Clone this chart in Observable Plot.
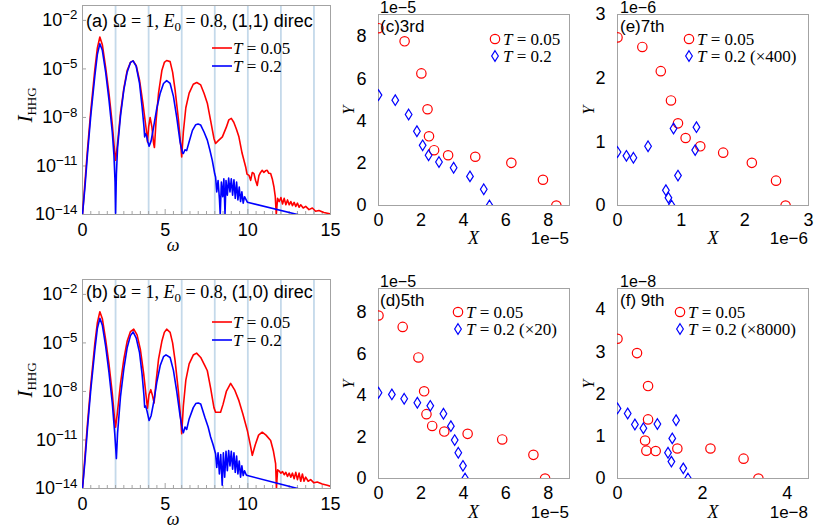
<!DOCTYPE html>
<html><head><meta charset="utf-8">
<script src="https://cdn.jsdelivr.net/npm/d3@7"></script>
<script src="https://cdn.jsdelivr.net/npm/@observablehq/plot@0.6"></script>
<style>
body{margin:0;background:#fff;}
#fig{position:relative;width:817px;height:531px;overflow:hidden;background:#fff;}
#fig > svg, #fig > div{position:absolute;}
#overlay{left:0;top:0;pointer-events:none;}
</style></head><body><div id="fig"></div>
<script>
// ---------------- DATA ----------------
// HHG spectra: [omega, log10(I_HHG)]
const aRed = [[0,-14],[0.15,-12],[0.3,-10],[0.5,-7.6],[0.75,-5.0],[0.9,-3.7],[1.05,-3.03],[1.2,-3.5],[1.4,-4.9],[1.6,-6.5],[1.8,-8.4],[1.95,-10.2],[2.0,-10.65],[2.1,-9.8],[2.3,-7.7],[2.5,-6.2],[2.7,-5.1],[2.9,-4.6],[3.06,-4.5],[3.25,-4.8],[3.45,-5.7],[3.65,-7.1],[3.85,-8.7],[3.93,-9.51],[4.0,-8.6],[4.09,-8.0],[4.2,-8.6],[4.3,-9.6],[4.35,-9.86],[4.45,-8.2],[4.6,-6.5],[4.8,-5.1],[4.95,-4.6],[5.09,-4.48],[5.3,-4.55],[5.45,-5.2],[5.6,-6.3],[5.8,-8.1],[5.95,-9.8],[6.0,-10.44],[6.1,-8.9],[6.25,-7.4],[6.45,-6.5],[6.7,-5.95],[6.91,-5.84],[7.15,-5.99],[7.35,-6.5],[7.55,-7.12],[7.75,-8.2],[7.95,-9.3],[8.05,-9.61],[8.2,-9.45],[8.46,-9.2],[8.7,-8.6],[8.85,-8.15],[9.0,-8.06],[9.15,-8.3],[9.3,-8.7],[9.46,-9.2],[9.65,-10.2],[9.87,-11.06],[9.95,-11.5],[10.07,-11.58],[10.17,-11.89],[10.27,-11.4],[10.37,-11.47],[10.47,-11.9],[10.57,-12.2],[10.67,-11.6],[10.77,-11.4],[10.87,-11.27],[10.97,-11.4],[11.07,-11.3],[11.17,-11.27],[11.27,-11.45],[11.38,-11.47],[11.48,-11.8],[11.58,-12.3],[11.66,-12.9],[11.72,-14],[11.8,-13.0],[11.9,-13.2],[12.0,-12.95],[12.1,-13.35],[12.2,-13.0],[12.3,-13.4],[12.4,-13.1],[12.5,-13.4],[12.6,-13.2],[12.7,-13.45],[12.8,-13.25],[12.9,-13.5],[13.0,-13.3],[13.1,-13.55],[13.2,-13.4],[13.35,-13.6],[13.5,-13.5],[13.7,-13.7],[13.9,-13.6],[14.1,-13.8],[14.3,-13.75],[14.6,-13.88],[15,-13.96]];
const aBlue = [[0,-14],[0.15,-12.3],[0.3,-10.3],[0.5,-7.9],[0.75,-5.4],[0.9,-4.1],[1.05,-3.44],[1.2,-3.85],[1.4,-5.2],[1.6,-6.9],[1.8,-8.9],[1.9,-10.3],[1.97,-12],[2.0,-13.92],[2.05,-11.5],[2.12,-9.9],[2.3,-7.9],[2.5,-6.3],[2.7,-5.2],[2.9,-4.6],[3.06,-4.5],[3.25,-4.85],[3.45,-5.9],[3.6,-7.3],[3.72,-8.6],[3.76,-9.2],[3.8,-9.0],[3.87,-9.1],[3.95,-9.5],[4.03,-9.78],[4.15,-9.45],[4.3,-8.6],[4.5,-7.4],[4.7,-6.5],[4.9,-5.9],[5.09,-5.72],[5.3,-5.9],[5.5,-6.7],[5.7,-8.0],[5.9,-9.5],[6.05,-10.2],[6.1,-10.23],[6.2,-10.0],[6.3,-10.05],[6.45,-9.5],[6.65,-8.8],[6.85,-8.45],[6.99,-8.41],[7.15,-8.47],[7.35,-8.9],[7.55,-9.4],[7.7,-10.0],[7.85,-10.65],[8.0,-11.5],[8.05,-11.68],[8.12,-12.6],[8.2,-11.9],[8.28,-13.0],[8.33,-14],[8.4,-12.0],[8.48,-12.9],[8.55,-11.8],[8.62,-14],[8.68,-11.9],[8.76,-12.8],[8.84,-11.75],[8.92,-12.6],[9.0,-11.8],[9.08,-12.8],[9.16,-11.85],[9.24,-13.0],[9.32,-12.0],[9.4,-13.1],[9.48,-12.3],[9.56,-13.2],[9.64,-12.6],[9.72,-13.3],[9.8,-12.9],[9.9,-13.1],[9.97,-13.24],[13.2,-14.05]];
const bRed = [[0,-14],[0.15,-12],[0.3,-10],[0.5,-7.6],[0.75,-5.0],[0.9,-3.75],[1.05,-3.07],[1.2,-3.5],[1.4,-4.8],[1.6,-6.3],[1.8,-8.1],[1.95,-9.8],[2.0,-10.21],[2.1,-9.4],[2.3,-7.5],[2.5,-6.0],[2.7,-4.9],[2.9,-4.3],[3.1,-4.15],[3.3,-4.5],[3.5,-5.4],[3.7,-6.9],[3.85,-8.3],[3.93,-9.04],[4.02,-8.2],[4.13,-7.89],[4.22,-8.2],[4.33,-8.71],[4.45,-7.4],[4.6,-6.0],[4.8,-4.9],[4.95,-4.35],[5.09,-4.15],[5.3,-4.35],[5.45,-5.0],[5.6,-6.1],[5.8,-8.0],[5.95,-9.8],[6.0,-10.62],[6.1,-8.9],[6.25,-7.3],[6.45,-6.3],[6.7,-5.75],[6.9,-5.63],[7.15,-5.9],[7.4,-6.41],[7.55,-6.72],[7.75,-7.8],[7.95,-9.0],[8.05,-9.29],[8.35,-9.29],[8.5,-8.8],[8.7,-8.0],[8.96,-7.5],[9.2,-7.9],[9.46,-8.57],[9.7,-9.4],[9.97,-10.41],[10.15,-11.3],[10.27,-11.95],[10.45,-11.3],[10.65,-10.7],[10.87,-10.52],[11.1,-10.7],[11.38,-11.03],[11.55,-11.7],[11.68,-12.46],[11.73,-14],[11.8,-12.85],[11.88,-12.9],[12.0,-13.05],[12.1,-12.95],[12.2,-13.15],[12.3,-13.0],[12.4,-13.25],[12.5,-13.05],[12.6,-13.3],[12.7,-13.05],[12.8,-13.4],[12.9,-13.0],[13.0,-13.45],[13.1,-13.05],[13.2,-13.55],[13.3,-13.1],[13.4,-13.55],[13.5,-13.3],[13.65,-13.55],[13.8,-13.45],[14.0,-13.65],[14.2,-13.6],[14.5,-13.72],[14.8,-13.8],[15,-13.86]];
const bBlue = [[0,-14],[0.15,-12.3],[0.3,-10.3],[0.5,-7.9],[0.75,-5.4],[0.9,-4.1],[1.05,-3.48],[1.2,-3.9],[1.4,-5.2],[1.6,-6.8],[1.8,-8.7],[1.95,-10.6],[2.05,-12.15],[2.12,-10.6],[2.3,-8.3],[2.5,-6.6],[2.7,-5.3],[2.9,-4.55],[3.06,-4.32],[3.25,-4.7],[3.45,-5.6],[3.6,-6.9],[3.72,-8.3],[3.76,-8.98],[3.82,-8.9],[3.9,-9.2],[4.03,-9.8],[4.15,-9.5],[4.3,-8.7],[4.5,-7.4],[4.7,-6.4],[4.9,-5.85],[5.05,-5.74],[5.3,-5.9],[5.5,-6.7],[5.7,-8.0],[5.9,-9.5],[6.05,-10.4],[6.1,-10.55],[6.2,-10.2],[6.3,-10.35],[6.45,-9.7],[6.7,-9.0],[6.85,-8.75],[7.0,-8.71],[7.15,-8.77],[7.4,-9.6],[7.6,-10.2],[7.75,-10.82],[7.9,-11.3],[8.05,-11.85],[8.12,-12.7],[8.2,-11.8],[8.28,-13.1],[8.36,-11.9],[8.45,-13.8],[8.52,-11.8],[8.6,-13.3],[8.68,-11.7],[8.76,-12.9],[8.84,-11.65],[8.92,-12.6],[9.0,-11.7],[9.08,-12.8],[9.16,-11.8],[9.24,-13.0],[9.32,-12.0],[9.4,-13.1],[9.48,-12.3],[9.56,-13.3],[9.64,-12.6],[9.72,-13.2],[9.8,-12.9],[9.9,-13.15],[9.97,-13.2],[13.2,-14.05]];

// Harmonic markers and ticks for spectra
const harmonicLines = [2,4,6,8,10,12,14];
const omegaTicks = [0,5,10,15];
const omegaMinorTicks = [0.5,1,1.5,2,2.5,3,3.5,4,4.5,5.5,6,6.5,7,7.5,8,8.5,9,9.5,10.5,11,11.5,12,12.5,13,13.5,14,14.5];
const intensityTicks = [1e-2,1e-5,1e-8,1e-11,1e-14];

// Scatter panels: [X, Y] in units of the panel exponent
const cRed  = [[0,8.4],[1.23,7.78],[2.02,6.26],[2.31,4.56],[2.38,3.28],[2.62,2.62],[3.28,2.38],[4.56,2.31],[6.26,2.02],[7.75,1.22],[8.38,0]];
const cBlue = [[0,5.23],[0.79,4.99],[1.42,4.31],[1.81,3.52],[2.08,2.85],[2.36,2.38],[2.85,2.06],[3.54,1.79],[4.31,1.38],[4.96,0.77],[5.23,0]];
const dRed  = [[0,7.85],[1.14,7.3],[1.88,5.83],[2.15,4.2],[2.26,3.1],[2.53,2.53],[3.1,2.26],[4.2,2.15],[5.83,1.88],[7.3,1.14],[7.85,0]];
const dBlue = [[0,4.13],[0.63,4.05],[1.21,3.84],[1.83,3.65],[2.44,3.5],[3.06,3.12],[3.41,2.52],[3.59,1.85],[3.76,1.24],[3.98,0.61],[4.08,0]];
const eRed  = [[0,2.64],[0.39,2.49],[0.68,2.11],[0.84,1.65],[0.95,1.29],[1.07,1.06],[1.30,0.93],[1.66,0.83],[2.11,0.67],[2.49,0.39],[2.64,0]];
const eBlue = [[0,0.84],[0.14,0.78],[0.25,0.75],[0.48,0.93],[0.76,0.24],[0.80,0.12],[0.85,0],[0.88,1.21],[0.95,0.47],[1.22,0.87],[1.24,1.23]];
const fRed  = [[0,3.31],[0.46,2.97],[0.72,2.19],[0.72,1.40],[0.65,0.90],[0.68,0.66],[0.90,0.65],[1.41,0.71],[2.19,0.71],[2.97,0.47],[3.32,0]];
const fBlue = [[0,1.66],[0.24,1.54],[0.41,1.28],[0.61,1.19],[0.94,1.29],[1.19,0.61],[1.27,0.40],[1.29,0.95],[1.38,1.38],[1.55,0.24],[1.66,0]];

const ticks0to8 = [0,2,4,6,8];
const ticks0to3 = [0,1,2,3];
const ticks0to4x = [0,2,4];
const ticks0to4y = [0,1,2,3,4];

// ---------------- STYLE ----------------
const SANS = "'Liberation Sans', Arial, sans-serif";
const SERIF = "'Liberation Serif', 'Times New Roman', serif";
const RED = "#ff0000", BLUE = "#0000ff", FRAME = "#a3a3a3", HARM = "#c4d9ea";
const TICKFONT = 18;

const tallDiamond = {
  draw(ctx, size) {
    const r = Math.sqrt(size / Math.PI);
    const w = r * 0.64, h = r * 1.02;
    ctx.moveTo(0, -h); ctx.lineTo(w, 0); ctx.lineTo(0, h); ctx.lineTo(-w, 0); ctx.closePath();
  }
};

const fig = document.getElementById("fig");

function place(el, left, top) {
  el.style.left = left + "px"; el.style.top = top + "px";
  fig.appendChild(el);
  return el;
}

function supTicks(svg) {
  d3.select(svg).selectAll('g[aria-label="y-axis tick label"] text').each(function() {
    const s = this.textContent;
    const [b, e] = s.split("^");
    const t = d3.select(this); t.text(null);
    t.append("tspan").text(b);
    t.append("tspan").attr("dy", "-0.5em").attr("font-size", "0.74em").text(e.replace("-", "\u2212"));
  });
}

const plotStyle = {background: "transparent", fontFamily: SANS, fontSize: TICKFONT + "px", color: "#000", overflow: "visible"};

function spectrum(red, blue, {height, mt, mb}) {
  const width = 340, ml = 82, mr = 10;
  const fh = height - mt - mb, fw = width - ml - mr;
  const svg = Plot.plot({
    width, height, marginLeft: ml, marginRight: mr, marginTop: mt, marginBottom: mb,
    x: {domain: [0, 15]},
    y: {type: "log", domain: [1e-14, 10 ** -1.08]},
    style: plotStyle,
    marks: [
      Plot.ruleX(harmonicLines, {stroke: HARM, strokeWidth: 1.8}),
      Plot.ruleX(omegaMinorTicks, {insetTop: fh - 3, stroke: FRAME}),
      Plot.ruleX(omegaTicks, {insetTop: fh - 5, stroke: FRAME}),
      Plot.ruleY(intensityTicks, {insetRight: fw - 4, stroke: FRAME}),
      Plot.frame({stroke: FRAME}),
      Plot.axisX({ticks: omegaTicks, tickSize: 0, tickPadding: 9, label: null, fontSize: TICKFONT,
        tickFormat: d => String(d)}),
      Plot.axisY({ticks: intensityTicks, tickSize: 0, tickPadding: 5, label: null, fontSize: TICKFONT,
        tickFormat: d => "10^" + Math.round(Math.log10(d))}),
      Plot.line(red, {x: d => d[0], y: d => 10 ** d[1], stroke: RED, strokeWidth: 1.6, clip: true}),
      Plot.line(blue, {x: d => d[0], y: d => 10 ** d[1], stroke: BLUE, strokeWidth: 1.6, clip: true})
    ]
  });
  supTicks(svg);
  return svg;
}

function scatter(red, blue, {width, height, ml, mr, mt, mb, xd, yd, xt, yt}) {
  return Plot.plot({
    width, height, marginLeft: ml, marginRight: mr, marginTop: mt, marginBottom: mb,
    x: {domain: xd}, y: {domain: yd},
    style: plotStyle,
    marks: [
      Plot.frame({stroke: FRAME}),
      Plot.axisX({ticks: xt, tickSize: 0, tickPadding: 8, label: null, fontSize: TICKFONT, tickFormat: d => String(d)}),
      Plot.axisY({ticks: yt, tickSize: 0, tickPadding: 12, label: null, fontSize: TICKFONT, tickFormat: d => String(d)}),
      Plot.dot(red, {x: d => d[0], y: d => d[1], r: 4.7, stroke: RED, strokeWidth: 1.2, fill: "none", clip: true}),
      Plot.dot(blue, {x: d => d[0], y: d => d[1], r: 5.2, symbol: tallDiamond, stroke: BLUE, strokeWidth: 1.2, fill: "none", clip: true})
    ]
  });
}

place(spectrum(aRed, aBlue, {height: 260, mt: 5, mb: 46}), 0, 0);
place(spectrum(bRed, bBlue, {height: 271, mt: 19, mb: 43}), 0, 260);
place(scatter(cRed, cBlue, {width: 240, height: 260, ml: 38, mr: 11, mt: 14, mb: 55, xd: [0, 9], yd: [0, 9.05], xt: ticks0to8, yt: ticks0to8}), 340, 0);
place(scatter(dRed, dBlue, {width: 240, height: 271, ml: 38, mr: 11, mt: 28, mb: 53, xd: [0, 9], yd: [0, 9.15], xt: ticks0to8, yt: ticks0to8}), 340, 260);
place(scatter(eRed, eBlue, {width: 237, height: 260, ml: 37, mr: 9, mt: 14, mb: 55, xd: [0, 3], yd: [0, 3], xt: ticks0to3, yt: ticks0to3}), 580, 0);
place(scatter(fRed, fBlue, {width: 237, height: 271, ml: 37, mr: 9, mt: 28, mb: 53, xd: [0, 4.5], yd: [0, 4.5], xt: ticks0to4x, yt: ticks0to4y}), 580, 260);

// ---------------- ANNOTATIONS (overlay) ----------------
const overlay = d3.select(fig).append("svg").attr("id", "overlay")
  .attr("width", 817).attr("height", 531)
  .style("font-family", SANS).style("white-space", "pre");

function rich(x, y, parts, {anchor = "start", rotate = 0, size = 17} = {}) {
  const t = overlay.append("text").attr("x", x).attr("y", y).attr("text-anchor", anchor)
    .attr("font-size", size).attr("fill", "#000");
  if (rotate) t.attr("transform", `rotate(${rotate},${x},${y})`);
  for (const p of parts) {
    const s = t.append("tspan").text(p.t);
    if (p.f) s.attr("font-family", p.f);
    if (p.i) s.attr("font-style", "italic");
    if (p.sz) s.attr("font-size", p.sz);
    if (p.dy) s.attr("dy", p.dy);
  }
  return t;
}

function titleParts(lbl, dir) {
  return [
    {t: lbl + " ", f: SANS},
    {t: "\u03A9 = 1, ", f: SERIF},
    {t: "E", f: SERIF, i: true},
    {t: "0", f: SERIF, sz: 13, dy: 4},
    {t: " = 0.8,  ", f: SERIF, dy: -4},
    {t: dir, f: SANS}
  ];
}
function legendLine(x, y, color, label) {
  overlay.append("line").attr("x1", x).attr("x2", x + 20).attr("y1", y).attr("y2", y)
    .attr("stroke", color).attr("stroke-width", 1.6);
  rich(x + 21, y + 6, [{t: "T", f: SERIF, i: true}, {t: " = " + label, f: SERIF}], {size: 17});
}
function legendSym(x, y, kind, label) {
  if (kind === "circle") {
    overlay.append("circle").attr("cx", x).attr("cy", y).attr("r", 4.7)
      .attr("fill", "none").attr("stroke", RED).attr("stroke-width", 1.2);
  } else {
    overlay.append("path").attr("d", d3.symbol(tallDiamond, Math.PI * 5.2 * 5.2)())
      .attr("transform", `translate(${x},${y})`)
      .attr("fill", "none").attr("stroke", BLUE).attr("stroke-width", 1.2);
  }
  rich(x + 8, y + 6, [{t: "T", f: SERIF, i: true}, {t: " = " + label, f: SERIF}], {size: 17});
}

// (a), (b)
rich(86, 27, titleParts("(a)", "(1,1) direc"), {size: 18});
rich(86, 298, titleParts("(b)", "(1,0) direc"), {size: 18});
legendLine(212, 48, RED, "0.05");
legendLine(212, 66, BLUE, "0.2");
legendLine(212, 322, RED, "0.05");
legendLine(212, 340, BLUE, "0.2");
for (const [x, y] of [[32, 105], [32, 380]]) {
  rich(x, y, [{t: "I", f: SERIF, i: true, sz: 21}, {t: "HHG", f: SERIF, sz: 13, dy: 4}], {anchor: "middle", rotate: -90});
}
rich(173, 251, [{t: "\u03C9", f: SERIF, i: true}], {anchor: "middle", size: 18});
rich(173, 525, [{t: "\u03C9", f: SERIF, i: true}], {anchor: "middle", size: 18});

// scatter panels
const panels = [
  {x0: 380, xr: 569, top: 0, exp: "1e\u22125", lbl: "(c)3rd", lx: 495, sub: "0.2"},
  {x0: 380, xr: 569, top: 274, exp: "1e\u22125", lbl: "(d)5th", lx: 458, sub: "0.2 (\u00D720)"},
  {x0: 620, xr: 808, top: 0, exp: "1e\u22126", lbl: "(e)7th", lx: 689, sub: "0.2 (\u00D7400)"},
  {x0: 620, xr: 808, top: 274, exp: "1e\u22128", lbl: "(f) 9th", lx: 680, sub: "0.2 (\u00D78000)"}
];
for (const p of panels) {
  const t = p.top;
  rich(p.x0, 13 + t, [{t: p.exp}], {size: 16});
  rich(p.x0, 32 + t, [{t: p.lbl}], {size: 17});
  const ly = p.top === 0 ? 39 : 312;
  legendSym(p.lx, ly, "circle", "0.05");
  legendSym(p.lx, ly + 17, "diamond", p.sub);
  rich(p.xr, 244 + t, [{t: p.exp}], {anchor: "end", size: 17});
  rich((p.x0 - 2 + p.xr) / 2, 244 + t, [{t: "X", f: SERIF, i: true}], {anchor: "middle", size: 18});
  rich(p.x0 - 26, 110 + t, [{t: "Y", f: SERIF, i: true}], {anchor: "middle", rotate: -90, size: 16});
}
</script>
</body></html>
